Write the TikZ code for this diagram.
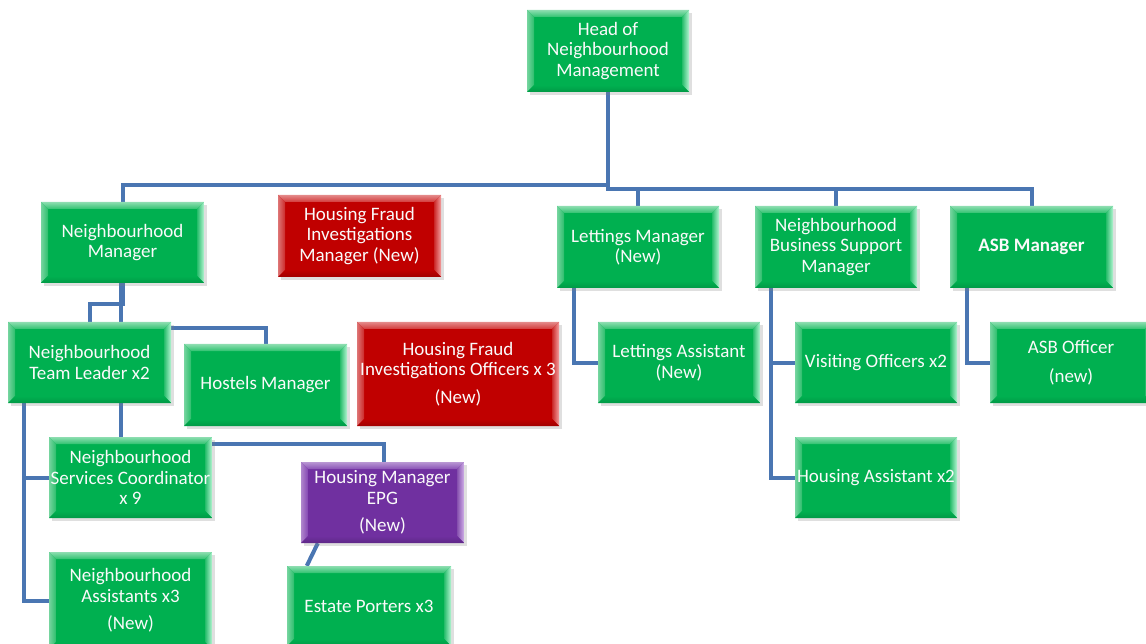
\documentclass[tikz,border=0pt]{standalone}
\usepackage{fontspec}
\setmainfont{Carlito}
\usetikzlibrary{shadows,calc}
\pgfdeclarelayer{background}
\pgfsetlayers{background,main}
\definecolor{gmain}{HTML}{00B050}
\definecolor{gtop}{HTML}{30C270}
\definecolor{gleft}{HTML}{2CBE6C}
\definecolor{gright}{HTML}{B4F4D2}
\definecolor{gbot}{HTML}{009A46}
\definecolor{rmain}{HTML}{C00000}
\definecolor{rtop}{HTML}{D23A3A}
\definecolor{rleft}{HTML}{CC2A2A}
\definecolor{rright}{HTML}{F4A0A0}
\definecolor{rbot}{HTML}{A00000}
\definecolor{pmain}{HTML}{7030A0}
\definecolor{ptop}{HTML}{8A52B6}
\definecolor{pleft}{HTML}{8446B2}
\definecolor{pright}{HTML}{D0B0E8}
\definecolor{pbot}{HTML}{5E2888}
\definecolor{connc}{HTML}{4A76B2}
\newcommand\bev[4]{%
 \path (path picture bounding box.north west) coordinate (bNW)
       (path picture bounding box.north east) coordinate (bNE)
       (path picture bounding box.south west) coordinate (bSW)
       (path picture bounding box.south east) coordinate (bSE);
 \shade[#1] (bNW) -- (bNE) -- ([shift={(-7pt,-7pt)}]bNE) -- ([shift={(7pt,-7pt)}]bNW) -- cycle;
 \shade[#2] (bNW) -- ([shift={(7pt,-7pt)}]bNW) -- ([shift={(7pt,7pt)}]bSW) -- (bSW) -- cycle;
 \shade[#3] (bNE) -- ([shift={(-7pt,-7pt)}]bNE) -- ([shift={(-7pt,7pt)}]bSE) -- (bSE) -- cycle;
 \shade[#4] (bSW) -- ([shift={(7pt,7pt)}]bSW) -- ([shift={(-7pt,7pt)}]bSE) -- (bSE) -- cycle;
}
\tikzset{
 box/.style={minimum width=162pt, minimum height=82pt, inner sep=0pt, align=center,
   text=white!96!gray, font=\fontsize{19}{20.5}\selectfont,
   drop shadow={shadow xshift=2.5pt, shadow yshift=-3pt, opacity=0.25}},
 gbox/.style={box, fill=gmain, path picture={\bev{top color=gtop!55!white,bottom color=gtop}{left color=gleft!65!white,right color=gleft}{left color=gmain!85!white,right color=gright}{top color=gmain,bottom color=gbot}}},
 rbox/.style={box, fill=rmain, path picture={\bev{top color=rtop!60!white,bottom color=rtop}{left color=rleft!65!white,right color=rleft}{left color=rmain!85!white,right color=rright}{top color=rmain,bottom color=rbot}}},
 pbox/.style={box, fill=pmain, path picture={\bev{top color=ptop!60!white,bottom color=ptop}{left color=pleft!65!white,right color=pleft}{left color=pmain!85!white,right color=pright}{top color=pmain,bottom color=pbot}}},
 conn/.style={draw=connc, line width=4pt}
}
\begin{document}
\begin{tikzpicture}[x=1pt,y=-1pt]
\useasboundingbox (0,0) rectangle (1146,644);
\clip (0,0) rectangle (1146,644);
% top
\node[gbox] (head) at (608,51) {Head of\\Neighbourhood\\Management};
% second row
\node[gbox, minimum width=163pt, minimum height=81pt] (nm) at (122.5,242.5) {Neighbourhood\\Manager};
\node[rbox, minimum width=163pt] (hfim) at (359.5,236) {Housing Fraud\\Investigations\\Manager (New)};
\node[gbox] (lm) at (638,247) {Lettings Manager\\(New)};
\node[gbox] (nbs) at (836,247) {Neighbourhood\\Business Support\\Manager};
\node[gbox, minimum width=163pt] (asb) at (1031.5,247) {\textbf{ASB Manager}};
% third row
\node[gbox, minimum width=163pt, minimum height=81pt] (ntl) at (89.5,362.5) {Neighbourhood\\Team Leader x2};
\node[gbox, minimum width=163pt] (hos) at (265.5,385) {Hostels Manager};
\node[rbox, minimum width=202pt, minimum height=104pt] (hfio) at (458,374) {Housing Fraud\\Investigations Officers x 3\\[7pt](New)};
\node[gbox, minimum height=81pt] (la) at (679,362.5) {Lettings Assistant\\(New)};
\node[gbox, minimum height=81pt] (vo) at (876,362.5) {Visiting Officers x2};
\node[gbox, minimum height=81pt] (asbo) at (1071,362.5) {ASB Officer\\[8pt](new)};
% fourth row
\node[gbox, minimum width=163pt, minimum height=81pt] (nsc) at (130.5,477.5) {Neighbourhood\\Services Coordinator\\x 9};
\node[pbox, minimum width=163pt, minimum height=81pt] (epg) at (382.5,502.5) {Housing Manager\\EPG\\[7pt](New)};
\node[gbox, minimum height=81pt] (ha) at (876,477.5) {Housing Assistant x2};
% fifth row
\node[gbox, minimum width=163pt, minimum height=97pt] (na) at (130.5,600.5) {Neighbourhood\\Assistants x3\\[7pt](New)};
\node[gbox, minimum width=164pt, minimum height=80pt] (ep) at (369,606) {Estate Porters x3};
% connectors
\begin{pgfonlayer}{background}
\draw[conn] (head.south) -- ++(0,93) -| (nm.north);
\draw[conn] (head.south) -- ++(0,97) coordinate (busR) -| (asb.north);
\draw[conn] (busR) -| (lm.north);
\draw[conn] (busR) -| (nbs.north);
\draw[conn] (nm.south) -- ++(0,21) -| (ntl.north);
\draw[conn] ([xshift=-1.5pt]nm.south) -- ([xshift=-1.5pt]nm.south |- nsc.north);
\draw[conn] ([yshift=-6pt]ntl.north) -| (hos.north);
\draw[conn] ([xshift=16pt]ntl.south west) |- (nsc.west);
\draw[conn] ([xshift=16pt]ntl.south west) |- (na.west);
\draw[conn] ([yshift=-7pt]nsc.north east) -| ([xshift=1.5pt]epg.north);
\draw[conn] ([xshift=17pt]epg.south west) -- ([xshift=20pt]ep.north west);
\draw[conn] ([xshift=17pt]lm.south west) |- (la.west);
\draw[conn] ([xshift=16pt]nbs.south west) |- (vo.west);
\draw[conn] ([xshift=16pt]nbs.south west) |- (ha.west);
\draw[conn] ([xshift=17pt]asb.south west) |- (asbo.west);
\end{pgfonlayer}
\end{tikzpicture}
\end{document}
